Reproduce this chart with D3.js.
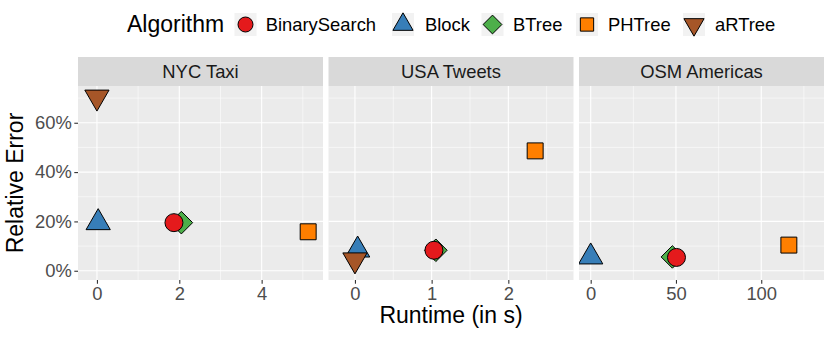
<!DOCTYPE html>
<html>
<head>
<meta charset="utf-8">
<script src="https://cdn.jsdelivr.net/npm/d3@7"></script>
<style>
body { margin: 0; background: #fff; }
text { font-family: "Liberation Sans", Arial, sans-serif; }
</style>
</head>
<body>
<svg id="chart" width="830" height="339"></svg>
<script>
var datasets = ["NYC Taxi", "USA Tweets", "OSM Americas"];
var algorithms = ["BinarySearch", "Block", "BTree", "PHTree", "aRTree"];
var colors = ["#E41A1C", "#377EB8", "#4DAF4A", "#FF7F00", "#A65628"];
var shapes = ["circle", "triangleUp", "diamond", "square", "triangleDown"];

// runtime (s) and relative error per algorithm, one value per dataset
var runtimeBinarySearch = [1.87, 1.03, 50.3];
var errorBinarySearch = [0.195, 0.083, 0.054];
var runtimeBlock = [0.03, 0.035, 0.0];
var errorBlock = [0.195, 0.084, 0.056];
var runtimeBTree = [2.05, 1.055, 47.9];
var errorBTree = [0.195, 0.083, 0.056];
var runtimePHTree = [5.13, 2.35, 116.2];
var errorPHTree = [0.158, 0.486, 0.104];
var runtimeARTree = [0.0, 0.0, null];
var errorARTree = [0.704, 0.044, null];

var xTicks = [[0, 2, 4], [0, 1, 2], [0, 50, 100]];
var xMinor = [[1, 3, 5], [0.5, 1.5, 2.5], [25, 75, 125]];
var xDomains = [[-0.46, 5.49], [-0.345, 2.85], [-6.86, 136.8]];
var yTicks = [0, 0.2, 0.4, 0.6];
var yMinor = [0.1, 0.3, 0.5, 0.7];
var yDomain = [-0.0375, 0.749];

var runtimes = [runtimeBinarySearch, runtimeBlock, runtimeBTree, runtimePHTree, runtimeARTree];
var errors = [errorBinarySearch, errorBlock, errorBTree, errorPHTree, errorARTree];
// drawing order inside a panel (BTree under BinarySearch, Block under aRTree)
var drawOrder = [2, 0, 1, 4, 3];

var svg = d3.select("#chart");
var panelLeft = 78, panelRight = 824, gap = 5.5;
var panelW = (panelRight - panelLeft - 2 * gap) / 3;
var stripTop = 57, panelTop = 86, panelBottom = 280;

// R style point shapes, R = circle radius
function shapePath(shape, R){
	var p = d3.path();
	if(shape == "circle"){
		p.arc(0, 0, R, 0, 2 * Math.PI);
	}
	else if(shape == "square"){
		var s = R * 0.886;
		p.rect(-s, -s, 2 * s, 2 * s);
	}
	else if(shape == "diamond"){
		var d = R * 1.2533;
		p.moveTo(0, -d); p.lineTo(d, 0); p.lineTo(0, d); p.lineTo(-d, 0);
	}
	else if(shape == "triangleUp"){
		var r = 1.5551 * R, xc = 1.3468 * R, yc = 0.7776 * R;
		p.moveTo(0, -r); p.lineTo(xc, yc); p.lineTo(-xc, yc);
	}
	else if(shape == "triangleDown"){
		var r2 = 1.5551 * R, xc2 = 1.3468 * R, yc2 = 0.7776 * R;
		p.moveTo(0, r2); p.lineTo(xc2, -yc2); p.lineTo(-xc2, -yc2);
	}
	p.closePath();
	return p.toString();
}

var y = d3.scaleLinear().domain(yDomain).range([panelBottom, panelTop]);

for(var i = 0; i < datasets.length; i++){
	var x0 = panelLeft + i * (panelW + gap);
	var x = d3.scaleLinear().domain(xDomains[i]).range([x0, x0 + panelW]);
	var g = svg.append("g");

	g.append("rect").attr("x", x0).attr("y", panelTop).attr("width", panelW)
		.attr("height", panelBottom - panelTop).attr("fill", "#EBEBEB");
	g.append("rect").attr("x", x0).attr("y", stripTop).attr("width", panelW)
		.attr("height", panelTop - stripTop).attr("fill", "#D9D9D9");
	g.append("text").attr("x", x0 + panelW / 2).attr("y", 78.3)
		.attr("text-anchor", "middle").attr("font-size", 18.4).attr("fill", "#1A1A1A")
		.text(datasets[i]);

	g.selectAll(".ymin").data(yMinor).enter().append("line")
		.attr("x1", x0).attr("x2", x0 + panelW)
		.attr("y1", function(d){ return y(d); }).attr("y2", function(d){ return y(d); })
		.attr("stroke", "#fff").attr("stroke-width", 0.55);
	g.selectAll(".xmin").data(xMinor[i]).enter().append("line")
		.attr("y1", panelTop).attr("y2", panelBottom)
		.attr("x1", function(d){ return x(d); }).attr("x2", function(d){ return x(d); })
		.attr("stroke", "#fff").attr("stroke-width", 0.55);
	g.selectAll(".ymaj").data(yTicks).enter().append("line")
		.attr("x1", x0).attr("x2", x0 + panelW)
		.attr("y1", function(d){ return y(d); }).attr("y2", function(d){ return y(d); })
		.attr("stroke", "#fff").attr("stroke-width", 1.1);
	g.selectAll(".xmaj").data(xTicks[i]).enter().append("line")
		.attr("y1", panelTop).attr("y2", panelBottom)
		.attr("x1", function(d){ return x(d); }).attr("x2", function(d){ return x(d); })
		.attr("stroke", "#fff").attr("stroke-width", 1.1);

	// x axis
	var xa = g.append("g").attr("transform", "translate(0," + panelBottom + ")")
		.call(d3.axisBottom(x).tickValues(xTicks[i]).tickSize(3.7).tickPadding(3.5)
			.tickFormat(d3.format("d")));
	xa.select(".domain").remove();
	xa.selectAll(".tick line").attr("stroke", "#333333").attr("stroke-width", 1.1);
	xa.selectAll(".tick text").attr("font-size", 18.4).attr("fill", "#4D4D4D")
		.attr("font-family", "Liberation Sans, Arial, sans-serif");

	if(i == 0){
		var ya = g.append("g").attr("transform", "translate(" + x0 + ",0)")
			.call(d3.axisLeft(y).tickValues(yTicks).tickSize(3.7).tickPadding(2.5)
				.tickFormat(d3.format(".0%")));
		ya.select(".domain").remove();
		ya.selectAll(".tick line").attr("stroke", "#333333").attr("stroke-width", 1.1);
		ya.selectAll(".tick text").attr("font-size", 18.4).attr("fill", "#4D4D4D")
			.attr("font-family", "Liberation Sans, Arial, sans-serif");
	}

	var pts = [];
	drawOrder.forEach(function(a){
		if(runtimes[a][i] != null){
			pts.push({a: a, rt: runtimes[a][i], err: errors[a][i]});
		}
	});
	g.append("clipPath").attr("id", "clip" + i).append("rect")
		.attr("x", x0).attr("y", panelTop).attr("width", panelW).attr("height", panelBottom - panelTop);
	g.append("g").attr("clip-path", "url(#clip" + i + ")")
		.selectAll("path").data(pts).enter().append("path")
		.attr("transform", function(d){ return "translate(" + x(d.rt) + "," + y(d.err) + ")"; })
		.attr("d", function(d){ return shapePath(shapes[d.a], 9); })
		.attr("fill", function(d){ return colors[d.a]; })
		.attr("stroke", "#000").attr("stroke-width", 1);
}

// axis titles
svg.append("text").attr("x", (panelLeft + panelRight) / 2).attr("y", 323)
	.attr("text-anchor", "middle").attr("font-size", 23).attr("fill", "#000")
	.text("Runtime (in s)");
svg.append("text").attr("transform", "translate(23.2," + (panelTop + panelBottom) / 2 + ") rotate(-90)")
	.attr("text-anchor", "middle").attr("font-size", 23).attr("fill", "#000")
	.text("Relative Error");

// legend
var legendKeys = [245.5, 403, 492.5, 587, 694];
var legendText = [265.7, 425, 513, 608, 715];
svg.append("text").attr("x", 127).attr("y", 32).attr("font-size", 23).attr("fill", "#000")
	.text("Algorithm");
var lg = svg.append("g").selectAll("g").data(algorithms).enter().append("g");
lg.append("rect").attr("x", function(d, k){ return legendKeys[k] - 11; }).attr("y", 13)
	.attr("width", 22).attr("height", 23).attr("fill", "#F2F2F2");
lg.append("path")
	.attr("transform", function(d, k){ return "translate(" + legendKeys[k] + ",24.5)"; })
	.attr("d", function(d, k){ return shapePath(shapes[k], 7.5); })
	.attr("fill", function(d, k){ return colors[k]; })
	.attr("stroke", "#000").attr("stroke-width", 1);
lg.append("text").attr("x", function(d, k){ return legendText[k]; }).attr("y", 31.3)
	.attr("font-size", 18.4).attr("fill", "#000")
	.text(function(d){ return d; });
</script>
</body>
</html>
